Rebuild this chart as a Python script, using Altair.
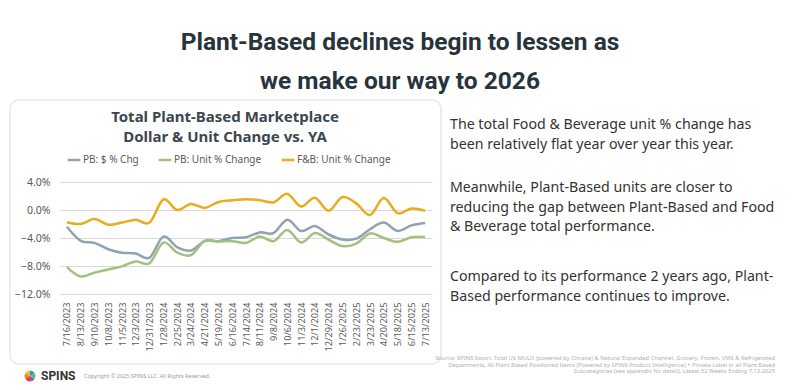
import altair as alt
import pandas as pd

dates = ["7/16/2023", "8/13/2023", "9/10/2023", "10/8/2023", "11/5/2023", "12/3/2023",
         "12/31/2023", "1/28/2024", "2/25/2024", "3/24/2024", "4/21/2024", "5/19/2024",
         "6/16/2024", "7/14/2024", "8/11/2024", "9/8/2024", "10/6/2024", "11/3/2024",
         "12/1/2024", "12/29/2024", "1/26/2025", "2/23/2025", "3/23/2025", "4/20/2025",
         "5/18/2025", "6/15/2025", "7/13/2025"]

pb_dollar = [-2.4, -4.4, -4.7, -5.6, -6.1, -6.2, -6.8, -3.8, -5.3, -5.8, -4.45, -4.45,
             -4.0, -3.9, -3.2, -3.3, -1.4, -3.0, -2.3, -3.5, -4.2, -4.1, -2.75, -1.8,
             -3.0, -2.2, -1.85]
pb_unit = [-8.15, -9.5, -8.95, -8.5, -8.05, -7.35, -7.6, -4.65, -6.05, -6.45, -4.4, -4.5,
           -4.45, -4.7, -3.8, -4.45, -2.85, -4.65, -3.3, -4.25, -5.15, -4.8, -3.35, -4.0,
           -4.55, -3.9, -3.85]
fb_unit = [-1.75, -2.0, -1.3, -2.1, -1.8, -1.4, -1.8, 1.5, 0.0, 0.85, 0.3, 1.15,
           1.4, 1.55, 1.4, 1.1, 2.3, 0.5, 1.75, -0.1, 1.85, 0.95, -0.7, 1.7,
           -0.45, 0.2, -0.1]

series_names = ["PB: $ % Chg", "PB: Unit % Change", "F&B: Unit % Change"]
series_colors = ["#8fa3b1", "#a3c07e", "#e8ac1c"]
y_ticks = [-12, -8, -4, 0, 4]

slide_title = [("Plant-Based declines begin to lessen as", -139),
               ("we make our way to 2026", -100)]
chart_title = [("Total Plant-Based Marketplace", -65),
               ("Dollar & Unit Change vs. YA", -45)]
body_lines = [
    ("The total Food & Beverage unit % change has", -57),
    ("been relatively flat year over year this year.", -37),
    ("Meanwhile, Plant-Based units are closer to", 6),
    ("reducing the gap between Plant-Based and Food", 26),
    ("& Beverage total performance.", 45),
    ("Compared to its performance 2 years ago, Plant-", 95),
    ("Based performance continues to improve.", 115),
]
source_lines = [
    ("Source: SPINS Satori, Total US MULO (powered by Circana) & Natural Expanded Channel,  Grocery, Frozen, VMS & Refrigerated", 176),
    ("Departments, All Plant Based Positioned Items (Powered by SPINS Product Intelligence) + Private Label in all Plant Based", 182.5),
    ("Subcategories (see appendix for detail), Latest 52 Weeks Ending 7.13.2025", 189),
]
copyright_text = "Copyright \u00a9 2025 SPINS LLC. All Rights Reserved."
logo_colors = ["#f4c20d", "#f08a24", "#e0463a", "#9b59b6", "#3a8fd9", "#5bbf6a"]

rows = []
for name, vals in zip(series_names, [pb_dollar, pb_unit, fb_unit]):
    for d, v in zip(dates, vals):
        rows.append({"date": d, "value": v, "series": name})
df = pd.DataFrame(rows)

W, H = 372, 112
one = pd.DataFrame({"a": [0]})

box = alt.Chart(one).mark_rect(
    fill="transparent", stroke="#d9d9d9", strokeWidth=1, cornerRadius=9
).encode(x=alt.value(-50), x2=alt.value(381), y=alt.value(-82), y2=alt.value(182))

lines = alt.Chart(df).mark_line(interpolate="cardinal", strokeWidth=2.5).encode(
    x=alt.X("date:O", sort=dates, title=None,
            scale=alt.Scale(type="point", padding=0.5),
            axis=alt.Axis(labelAngle=-90, labelFontSize=9.2, labelColor="#595959",
                          labelFont="Noto Sans", ticks=False, domain=False,
                          labelPadding=8, grid=False)),
    y=alt.Y("value:Q", title=None,
            scale=alt.Scale(domain=[-12, 4], nice=False, zero=False),
            axis=alt.Axis(values=y_ticks, labelExpr="format(datum.value, '.1f') + '%'",
                          labelFontSize=10.5, labelColor="#595959", labelFont="Noto Sans",
                          ticks=False, domain=False, labelPadding=10,
                          gridColor="#d9d9d9", gridWidth=1)),
    color=alt.Color("series:N", sort=series_names,
                    scale=alt.Scale(domain=series_names, range=series_colors),
                    legend=alt.Legend(orient="none", legendX=6, legendY=-30,
                                      direction="horizontal", title=None,
                                      symbolType="stroke", symbolSize=160,
                                      symbolStrokeWidth=2.5, labelFontSize=10,
                                      labelColor="#595959", labelFont="Noto Sans",
                                      columnPadding=14, labelOffset=1)),
)


def texts(items, x, **kw):
    layers = []
    for t, y in items:
        layers.append(alt.Chart(one).mark_text(text=t, baseline="middle", **kw).encode(
            x=alt.value(x), y=alt.value(y)))
    return layers


layers = [box, lines]
layers += texts(slide_title, 340, font="Roboto", fontSize=24.5, fontWeight="bold",
                color="#27343b", align="center")
layers += texts(chart_title, 165, font="Noto Sans", fontSize=15, fontWeight="bold",
                color="#3b4750", align="center")
layers += texts(body_lines, 390, font="Noto Sans", fontSize=14.2, color="#333333",
                align="left")
layers += texts(source_lines, 715, font="Noto Sans", fontSize=5.8, color="#b0b0b0",
                align="right")
layers += texts([(copyright_text, 194)], 24, font="Noto Sans", fontSize=5.5,
                color="#9a9a9a", align="left")
layers += texts([("SPINS", 194)], -19, font="Roboto", fontSize=12, fontWeight="bold",
                color="#333333", align="left")

logo = alt.Chart(pd.DataFrame({"c": logo_colors, "v": [1] * len(logo_colors)})).mark_arc(
    radius=5.5
).encode(
    theta=alt.Theta("v:Q", stack=True),
    color=alt.Color("c:N", scale=None, legend=None),
    x=alt.value(-30), y=alt.value(194),
)
layers.append(logo)

chart = alt.layer(*layers).properties(
    width=W, height=H,
    autosize=alt.AutoSizeParams(type="none"),
    padding={"left": 52, "top": 174, "right": 360, "bottom": 88},
    background="white",
).configure_view(stroke=None).resolve_scale(color="independent")

chart.save("out.html", embed_options={"renderer": "svg", "actions": False})
